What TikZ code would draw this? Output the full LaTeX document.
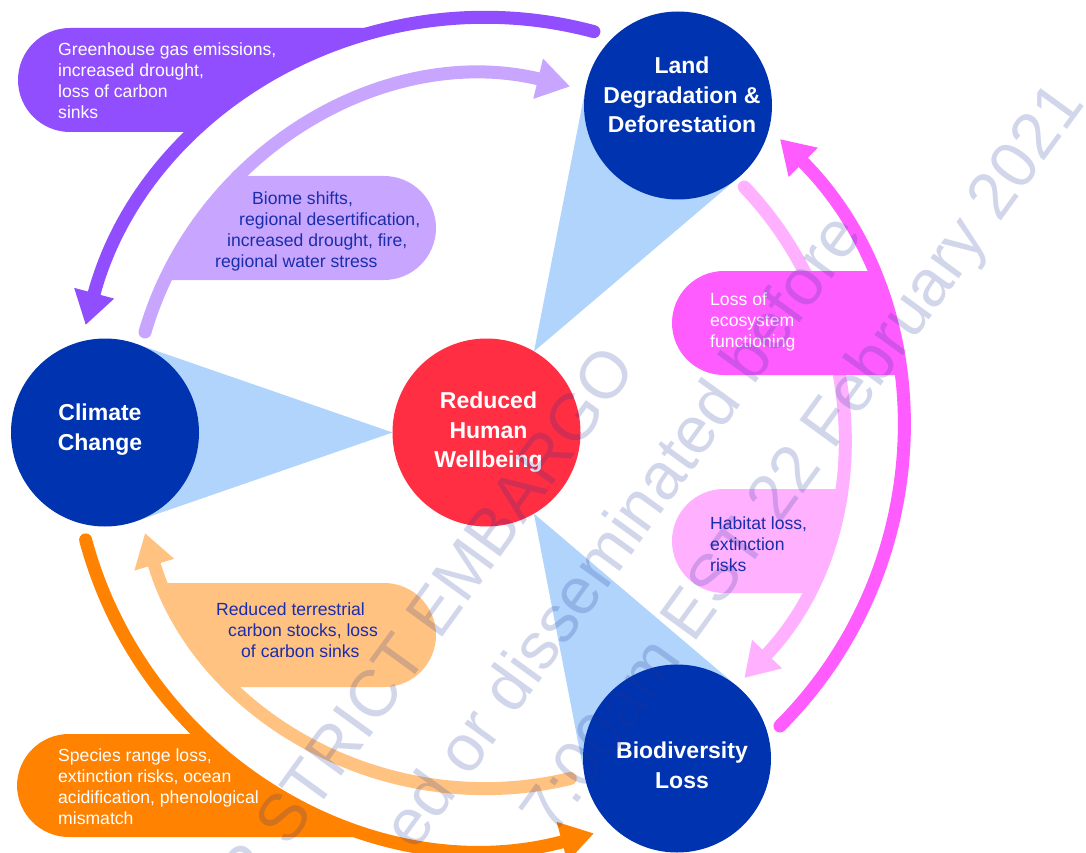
\documentclass[tikz,border=0pt]{standalone}
\usepackage{fontspec}
\setmainfont{Liberation Sans}
\usetikzlibrary{arrows.meta,calc}
\definecolor{cdark}{HTML}{0033B0}
\definecolor{cred}{HTML}{FF2E43}
\definecolor{cwedge}{HTML}{B0D4FB}
\definecolor{cpurple}{HTML}{914EFF}
\definecolor{clilac}{HTML}{C8A6FF}
\definecolor{cmag}{HTML}{FF5CFF}
\definecolor{cpink}{HTML}{FFB1FF}
\definecolor{corange}{HTML}{FF8200}
\definecolor{clorange}{HTML}{FFC280}
\definecolor{ctext}{HTML}{1A2DAA}
\definecolor{cwm}{HTML}{1E3296}
\begin{document}
\begin{tikzpicture}[x=1pt,y=1pt,yscale=-1,
  bigc/.style={circle,minimum size=188pt,inner sep=0pt,fill=cdark},
  clbl/.style={text=white,font=\fontsize{23}{29.5}\selectfont\bfseries,align=center,anchor=north,inner sep=0pt},
  btxt/.style={font=\fontsize{17.6}{20.8}\selectfont,align=left,anchor=north west,inner sep=0pt},
  band/.style={line width=13pt},
  head/.style={-{Triangle[length=33pt,width=39pt]}},
  wm/.style={text=cwm,text opacity=0.2,font=\fontsize{66}{66}\selectfont,anchor=base east,rotate=54,inner sep=0pt}]
\useasboundingbox (0,0) rectangle (1086,853);
\fill[white] (0,0) rectangle (1086,853);
\coordinate (cR) at (486.5,432.5);
\coordinate (cL) at (678,105.5);
\coordinate (cC) at (105,432.5);
\coordinate (cB) at (677,758.5);
% wedges
\foreach \o in {cL,cC,cB}{
  \fill[cwedge] ($(cR)!94pt!(\o)$) -- ($(\o)!94pt!70.8:(cR)$) -- ($(\o)!94pt!-70.8:(cR)$) -- cycle;
}
% light pink arc (under magenta box)
\draw[band,cpink,line cap=round,head] ($(cR)+(-43.6:356)$) arc[start angle=-43.6,end angle=43.6,radius=356];
% boxes
\begin{scope}
\clip[rounded corners=52pt] (18,28) rectangle (450,132);
\fill[cpurple,even odd rule] (-200,-200) rectangle (1300,1100) (cR) circle (415);
\end{scope}
\begin{scope}
\clip[rounded corners=52pt] (60,176) rectangle (436,280);
\fill[clilac] (cR) circle (356);
\end{scope}
\begin{scope}
\clip[rounded corners=52pt] (672,271) rectangle (1000,375);
\fill[cmag] (cR) circle (415);
\end{scope}
\begin{scope}
\clip[rounded corners=52pt] (672,489) rectangle (1000,593);
\fill[cpink] (cR) circle (356);
\end{scope}
\begin{scope}
\clip[rounded corners=52pt] (60,583) rectangle (436,687);
\fill[clorange] (cR) circle (356);
\end{scope}
\begin{scope}
\clip[rounded corners=52pt] (17,734) rectangle (450,837);
\fill[corange,even odd rule] (-200,-200) rectangle (1300,1100) (cR) circle (415);
\end{scope}
% arcs
\draw[band,cpurple,line cap=round,head] ($(cR)+(-75:415)$) arc[start angle=-75,end angle=-165,radius=415];
\draw[band,cmag,line cap=round,head] ($(cR)+(45:415)$) arc[start angle=45,end angle=-45,radius=415];
\draw[band,corange,line cap=round,head] ($(cR)+(-195:415)$) arc[start angle=-195,end angle=-285,radius=415];
\draw[band,clilac,line cap=round,head] ($(cR)+(-163.6:356)$) arc[start angle=-163.6,end angle=-76.4,radius=356];
\draw[band,clorange,line cap=round,head] ($(cR)+(-283.6:356)$) arc[start angle=-283.6,end angle=-196.4,radius=356];
% circles
\node[bigc,fill=cred] (R) at (cR) {};
\node[bigc] (L) at (cL) {};
\node[bigc] (C) at (cC) {};
\node[bigc] (B) at (cB) {};
\node[clbl] (tL) at (682,57) {Land\\Degradation \&\\Deforestation};
\node[clbl] (tC) at (100,404) {Climate\\Change};
\node[clbl] (tR) at (488.5,391.7) {Reduced\\Human\\Wellbeing};
\node[clbl] (tB) at (682,741.7) {Biodiversity\\Loss};
% box texts
\node[btxt,text=white] (tg) at (58,43) {Greenhouse gas emissions,\\increased drought,\\loss of carbon\\sinks};
\node[btxt,text=ctext] (tb) at (215,192) {\hspace*{37pt}Biome shifts,\\\hspace*{24pt}regional desertification,\\\hspace*{12pt}increased drought, fire,\\regional water stress};
\node[btxt,text=white] (te) at (710,293) {Loss of\\ecosystem\\functioning};
\node[btxt,text=ctext] (th) at (710,517) {Habitat loss,\\extinction\\risks};
\node[btxt,text=ctext] (tr) at (216,603) {Reduced terrestrial\\\hspace*{12pt}carbon stocks, loss\\\hspace*{25pt}of carbon sinks};
\node[btxt,text=white] (ts) at (58,749) {Species range loss,\\extinction risks, ocean\\acidification, phenological\\mismatch};
% watermark
\begin{scope}
\clip (0,0) rectangle (1086,853);
\node[wm] (w1) at (638,368) {R STRICT EMBARGO};
\node[wm] (w2) at (864,235) {ed or disseminated before};
\node[wm] (w3) at (1086,104) {7:00am EST 22 February 2021};
\end{scope}
\end{tikzpicture}
\end{document}
